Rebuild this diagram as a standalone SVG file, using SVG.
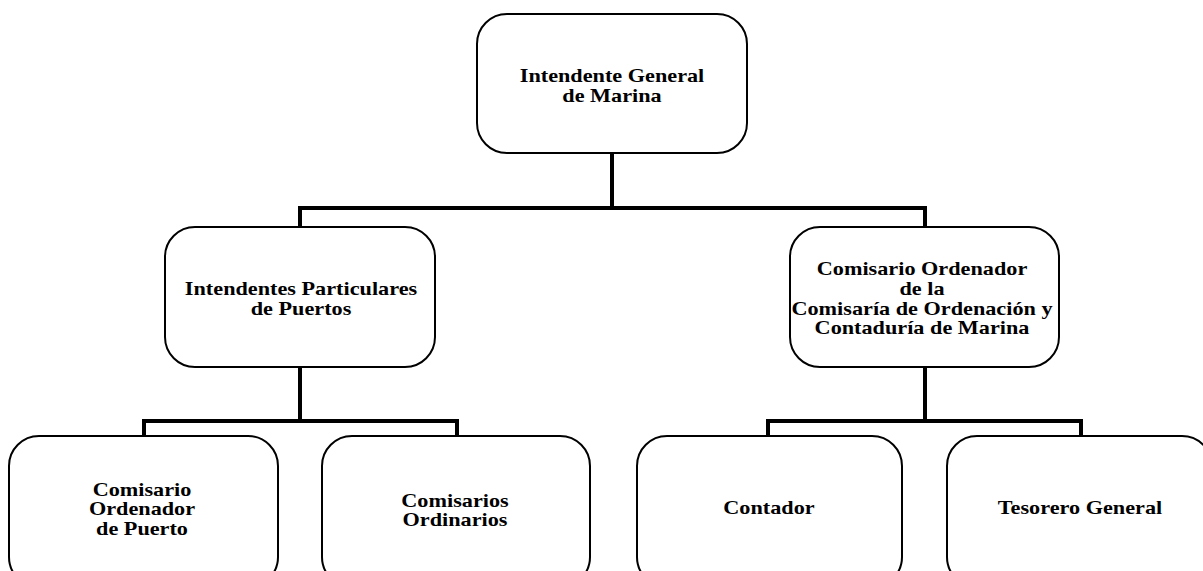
<svg xmlns="http://www.w3.org/2000/svg" width="1203" height="571" viewBox="0 0 1203 571">
<style>
.box{fill:#fff;stroke:#000;stroke-width:2}
.lbl{font-family:"Liberation Serif","Times New Roman",serif;font-weight:bold;font-size:18px;fill:#000;text-anchor:middle}
.con{fill:none;stroke:#000;stroke-width:4;stroke-linecap:square;stroke-linejoin:miter}
</style>
<rect width="1203" height="571" fill="#fff"/>
<g id="connectors">
<path class="con" d="M612,153 V208"/>
<path class="con" d="M300,227 V208 H925 V227"/>
<path class="con" d="M300,367 V421"/>
<path class="con" d="M144,436 V421 H457 V436"/>
<path class="con" d="M925,367 V421"/>
<path class="con" d="M768,436 V421 H1081 V436"/>
</g>
<g id="n-intendente-general">
<rect class="box" x="477" y="14" width="270" height="139" rx="30" ry="30"/>
<text class="lbl" transform="translate(612,0) scale(1.235,1)"><tspan x="0" y="82">Intendente General</tspan><tspan x="0" y="102">de Marina</tspan></text>
</g>
<g id="n-intendentes-particulares">
<rect class="box" x="165" y="227" width="270" height="140" rx="30" ry="30"/>
<text class="lbl" transform="translate(301,0) scale(1.235,1)"><tspan x="0" y="295">Intendentes Particulares</tspan><tspan x="0" y="315">de Puertos</tspan></text>
</g>
<g id="n-comisario-ordenador">
<rect class="box" x="790" y="227" width="269" height="140" rx="30" ry="30"/>
<text class="lbl" transform="translate(922,0) scale(1.235,1)"><tspan x="0" y="275">Comisario Ordenador</tspan><tspan x="0" y="295">de la</tspan><tspan x="0" y="315">Comisaría de Ordenación y</tspan><tspan x="0" y="334">Contaduría de Marina</tspan></text>
</g>
<g id="n-comisario-ordenador-puerto">
<rect class="box" x="9" y="436" width="269" height="151" rx="30" ry="30"/>
<text class="lbl" transform="translate(142,0) scale(1.235,1)"><tspan x="0" y="496">Comisario</tspan><tspan x="0" y="515">Ordenador</tspan><tspan x="0" y="535">de Puerto</tspan></text>
</g>
<g id="n-comisarios-ordinarios">
<rect class="box" x="322" y="436" width="268" height="151" rx="30" ry="30"/>
<text class="lbl" transform="translate(455,0) scale(1.235,1)"><tspan x="0" y="507">Comisarios</tspan><tspan x="0" y="526">Ordinarios</tspan></text>
</g>
<g id="n-contador">
<rect class="box" x="637" y="436" width="265" height="151" rx="30" ry="30"/>
<text class="lbl" transform="translate(769,0) scale(1.235,1)"><tspan x="0" y="514">Contador</tspan></text>
</g>
<g id="n-tesorero-general">
<rect class="box" x="947" y="436" width="265" height="151" rx="30" ry="30"/>
<text class="lbl" transform="translate(1080,0) scale(1.235,1)"><tspan x="0" y="514">Tesorero General</tspan></text>
</g>
</svg>
